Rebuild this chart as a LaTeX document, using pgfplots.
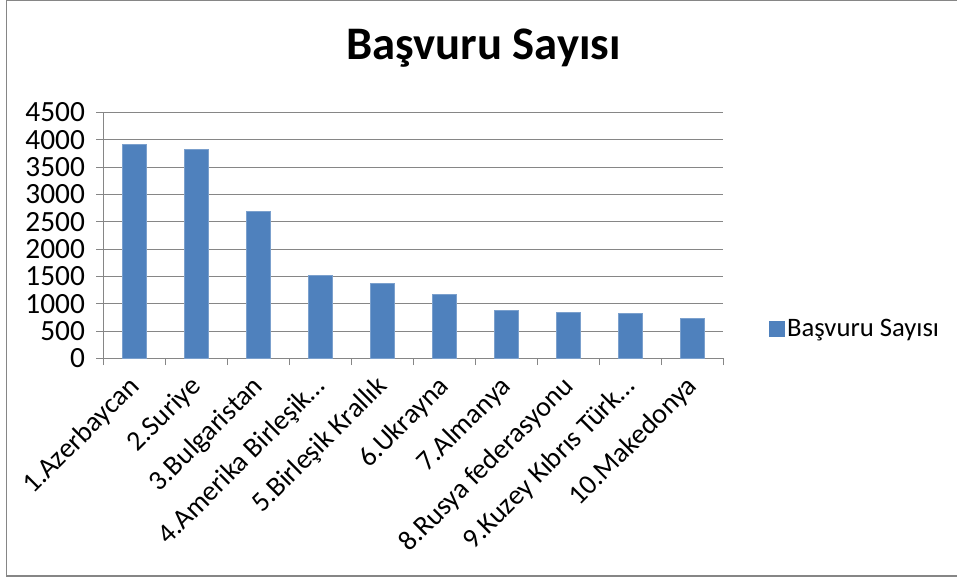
\documentclass[border=0pt]{standalone}
\usepackage{fontspec}
\setmainfont{Carlito}
\usepackage{pgfplots}
\pgfplotsset{compat=1.18}
\definecolor{barblue}{RGB}{79,129,189}
\definecolor{gridgray}{RGB}{134,134,134}
\begin{document}
\begin{tikzpicture}[x=0.75pt,y=0.75pt]
\useasboundingbox (0,0) rectangle (957,579);
\draw[gridgray, line width=1.1pt] (6.5,3) rectangle (975,578.6);
\begin{axis}[
  at={(77.25pt,165.5pt)}, anchor=south west,
  scale only axis, width=465pt, height=184.5pt,
  xmin=0.5, xmax=10.5, ymin=0, ymax=4500,
  ytick={0,500,...,4500},
  xtick={0.5,1.5,...,10.5},
  xticklabels={},
  extra x ticks={1,2,...,10},
  extra x tick labels={1.Azerbaycan,2.Suriye,3.Bulgaristan,4.Amerika Birleşik…,5.Birleşik Krallık,6.Ukrayna,7.Almanya,8.Rusya federasyonu,9.Kuzey Kıbrıs Türk…,10.Makedonya},
  extra x tick style={tick style={draw=none}, grid=none,
     xticklabel style={xshift=1pt, yshift=-13pt, rotate=45, anchor=east, inner sep=0pt, font=\fontsize{21}{24}\selectfont}},
  tick align=outside,
  major tick length=5pt,
  tick style={gridgray, line width=0.75pt},
  axis x line*=bottom, axis y line*=left,
  axis line style={gridgray, line width=0.75pt},
  ymajorgrids,
  major grid style={gridgray, line width=0.75pt},
  ticklabel style={font=\fontsize{22}{24}\selectfont, text=black},
  /pgf/number format/assume math mode=true,
  /pgf/number format/1000 sep={},
  yticklabel style={xshift=-5pt},
  ybar, bar width=18pt,
  legend style={at={(1.067,0.119)}, anchor=west, draw=none, fill=none,
     font=\fontsize{20}{22}\selectfont},
  legend image code/.code={\fill[barblue] (0pt,-5.6pt) rectangle (11.25pt,5.6pt);},
]
\addplot[fill=barblue, draw=barblue!75!white, line width=0.5pt] coordinates {
 (1,3920) (2,3823) (3,2694) (4,1524) (5,1372) (6,1176) (7,878) (8,841) (9,823) (10,732)};
\addlegendentry{Başvuru Sayısı}
\end{axis}
\node[anchor=base, font=\fontsize{35}{40}\selectfont\bfseries] at (483.5,519) {Başvuru Sayısı};
\end{tikzpicture}
\end{document}
